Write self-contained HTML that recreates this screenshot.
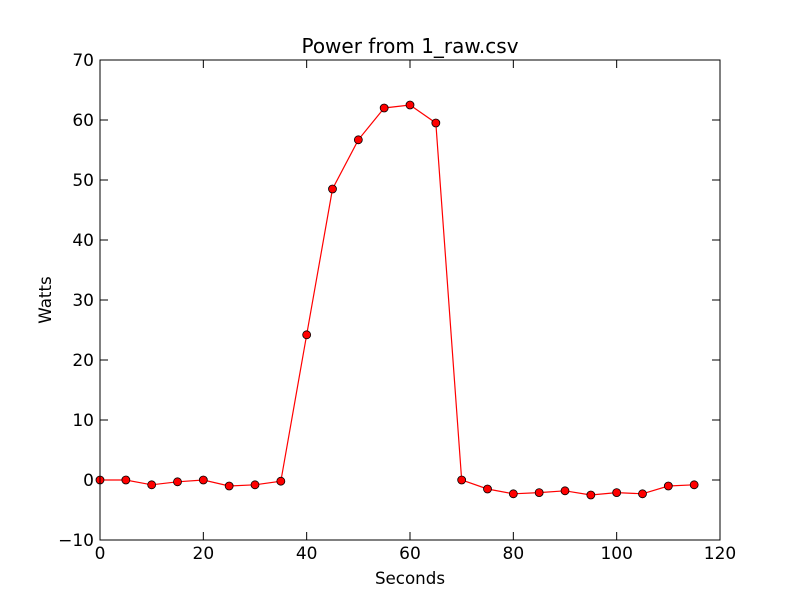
<!DOCTYPE html>
<html><head><meta charset="utf-8"><style>
body{margin:0;background:#fff;}
svg text{font-family:"DejaVu Sans","Liberation Sans",sans-serif;}
</style></head><body>
<svg id="chart" width="800" height="600" xmlns="http://www.w3.org/2000/svg">
<rect width="800" height="600" fill="#fff"/>
<text x="410" y="53" font-size="20" text-anchor="middle">Power from 1_raw.csv</text>
<text x="410" y="584" font-size="16.7" text-anchor="middle">Seconds</text>
<text x="51" y="300" font-size="16.7" text-anchor="middle" transform="rotate(-90 51 300)">Watts</text>
<g id="axes"></g>
<g id="series"></g>
<rect x="100" y="60" width="620" height="480" fill="none" stroke="#000" stroke-width="1"/>
</svg>
<script>
const xs = [0,5,10,15,20,25,30,35,40,45,50,55,60,65,70,75,80,85,90,95,100,105,110,115];
const watts = [0,0,-0.8,-0.3,0,-1,-0.8,-0.2,24.2,48.5,56.7,62,62.5,59.5,0,-1.5,-2.3,-2.1,-1.8,-2.5,-2.1,-2.3,-1,-0.8];
const xTicks = [0,20,40,60,80,100,120];
const yTicks = [-10,0,10,20,30,40,50,60,70];
const NS = "http://www.w3.org/2000/svg";
const X = v => 100 + (v - 0) / 120 * 620;
const Y = v => 540 - (v + 10) / 80 * 480;
function mk(tag, attrs, parent){const e=document.createElementNS(NS,tag);for(const k in attrs)e.setAttribute(k,attrs[k]);parent.appendChild(e);return e;}
const axes = document.getElementById('axes');
xTicks.forEach(t=>{
  const x=X(t);
  const l1=mk('line',{x1:x,x2:x,y1:540,y2:532,stroke:'#000'},axes);
  
  
  mk('line',{x1:x,x2:x,y1:60,y2:68,stroke:'#000'},axes);
  const tx=mk('text',{x:x,y:559,'font-size':17,'text-anchor':'middle'},axes);
  tx.textContent=t;
  
  
});
yTicks.forEach(t=>{
  const y=Y(t);
  const l1=mk('line',{x1:100,x2:108,y1:y,y2:y,stroke:'#000'},axes);
  
  
  mk('line',{x1:712,x2:720,y1:y,y2:y,stroke:'#000'},axes);
  const tx=mk('text',{x:94,y:y+6,'font-size':17,'text-anchor':'end'},axes);
  tx.textContent=t<0?'\u2212'+Math.abs(t):t;
  
  
});
const s=document.getElementById('series');
const pl=mk('polyline',{points:xs.map((v,i)=>X(v)+','+Y(watts[i])).join(' '),fill:'none',stroke:'#ff0000','stroke-width':1.2},s);


xs.forEach((v,i)=>{
  const c=mk('circle',{cx:X(v),cy:Y(watts[i]),r:4,fill:'#ff0000',stroke:'#000','stroke-width':0.8},s);
  
  
});
</script>
</body></html>
